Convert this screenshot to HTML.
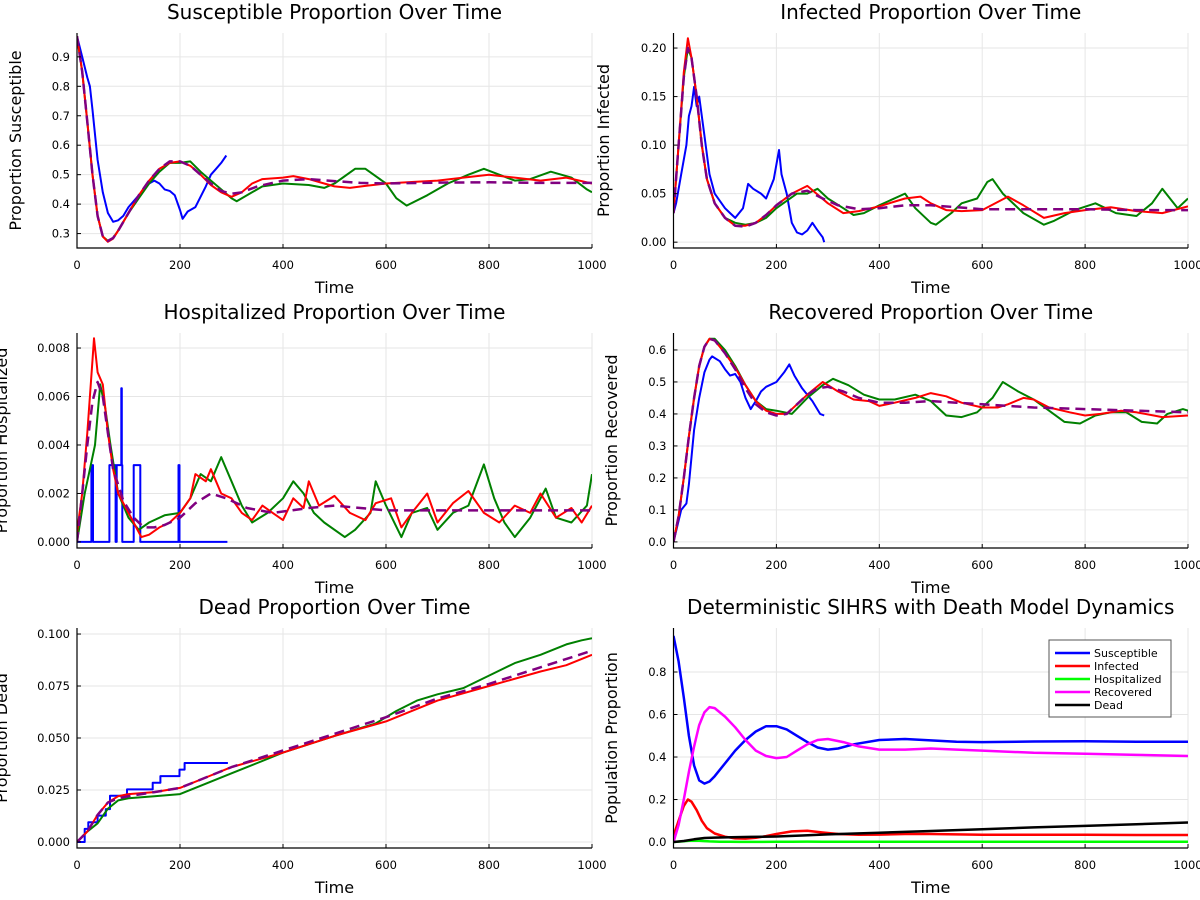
<!DOCTYPE html>
<html><head><meta charset="utf-8"><style>
html,body{margin:0;padding:0;background:#fff;}
svg{display:block;font-family:"DejaVu Sans","Liberation Sans",sans-serif;}
</style></head><body>
<svg id="chart" width="1200" height="900" viewBox="0 0 1200 900"></svg>
<script>
// ---------- data ----------
const detS_t=[0,10,20,30,40,50,60,70,80,100,120,140,160,180,200,220,240,260,280,300,320,350,400,450,500,550,600,700,800,900,1000];
const detS_v=[0.97,0.85,0.68,0.5,0.36,0.29,0.275,0.285,0.31,0.37,0.43,0.48,0.52,0.545,0.545,0.53,0.5,0.47,0.445,0.435,0.44,0.46,0.48,0.485,0.478,0.472,0.47,0.473,0.474,0.472,0.472];
const redS_t=[0,10,20,30,40,50,60,70,80,100,120,140,160,180,200,220,240,260,280,300,320,340,360,400,420,450,480,500,530,560,600,650,700,750,800,850,900,950,1000];
const redS_v=[0.97,0.85,0.68,0.5,0.36,0.29,0.272,0.283,0.31,0.37,0.43,0.48,0.52,0.54,0.545,0.53,0.5,0.465,0.44,0.425,0.44,0.47,0.485,0.49,0.495,0.485,0.47,0.46,0.455,0.462,0.47,0.475,0.48,0.49,0.5,0.49,0.48,0.49,0.47];
const grnS_t=[0,10,20,30,40,50,60,70,80,100,120,140,160,180,200,220,240,260,280,300,310,340,360,400,450,480,500,540,560,600,620,640,680,720,760,790,820,850,880,920,960,990,1000];
const grnS_v=[0.97,0.85,0.68,0.5,0.36,0.29,0.275,0.285,0.31,0.37,0.42,0.47,0.51,0.54,0.54,0.545,0.51,0.48,0.45,0.42,0.41,0.44,0.46,0.47,0.465,0.455,0.47,0.52,0.52,0.47,0.42,0.395,0.43,0.47,0.5,0.52,0.5,0.48,0.485,0.51,0.49,0.45,0.44];
const bluS_t=[0,10,20,25,30,40,50,60,70,80,90,100,110,120,140,150,160,170,180,190,200,205,215,230,250,260,270,280,290];
const bluS_v=[0.97,0.9,0.83,0.8,0.72,0.55,0.44,0.37,0.34,0.345,0.36,0.39,0.41,0.43,0.47,0.48,0.47,0.45,0.445,0.43,0.38,0.35,0.375,0.39,0.46,0.5,0.52,0.54,0.565];

const detI_t=[0,10,20,28,35,45,55,65,80,100,120,140,160,180,200,230,260,290,320,360,400,450,500,550,600,700,800,900,1000];
const detI_v=[0.03,0.1,0.17,0.2,0.19,0.15,0.1,0.065,0.04,0.025,0.017,0.016,0.02,0.028,0.038,0.05,0.053,0.045,0.038,0.034,0.035,0.038,0.038,0.036,0.034,0.034,0.034,0.033,0.033];
const redI_t=[0,10,20,28,35,45,55,65,80,100,120,140,160,180,200,230,260,300,330,360,400,450,480,500,530,560,600,650,680,720,760,800,850,900,950,1000];
const redI_v=[0.03,0.1,0.175,0.21,0.19,0.15,0.1,0.065,0.04,0.025,0.017,0.017,0.02,0.028,0.038,0.05,0.058,0.04,0.03,0.032,0.037,0.045,0.047,0.04,0.033,0.032,0.033,0.047,0.038,0.025,0.03,0.033,0.036,0.032,0.03,0.037];
const grnI_t=[0,10,20,28,35,45,55,65,80,100,120,140,160,180,200,240,260,280,300,330,350,370,400,450,470,500,510,540,560,590,610,620,640,680,720,740,780,820,860,900,930,950,980,1000];
const grnI_v=[0.03,0.1,0.17,0.2,0.19,0.15,0.1,0.065,0.04,0.025,0.02,0.018,0.02,0.025,0.035,0.05,0.05,0.055,0.045,0.035,0.028,0.03,0.038,0.05,0.035,0.02,0.018,0.03,0.04,0.045,0.062,0.065,0.05,0.03,0.018,0.022,0.033,0.04,0.03,0.027,0.04,0.055,0.035,0.045];
const bluI_t=[0,5,15,25,30,35,40,45,50,55,60,70,80,100,110,120,135,145,155,170,180,195,205,210,220,230,240,250,260,270,280,290,293];
const bluI_v=[0.03,0.04,0.07,0.1,0.13,0.14,0.16,0.14,0.15,0.13,0.11,0.07,0.05,0.035,0.03,0.025,0.035,0.06,0.055,0.05,0.045,0.065,0.095,0.07,0.05,0.02,0.01,0.008,0.012,0.02,0.012,0.005,0.0];

const detH_t=[0,10,20,30,40,50,60,70,90,110,130,150,170,200,230,260,290,330,380,450,500,600,1000];
const detH_v=[0,0.002,0.004,0.0058,0.0066,0.006,0.0045,0.003,0.0017,0.001,0.0006,0.0006,0.0007,0.001,0.0016,0.002,0.0018,0.0014,0.0012,0.0014,0.0015,0.0013,0.0013];
const redH_t=[0,10,20,30,33,40,50,60,70,80,100,115,125,140,160,180,200,220,230,250,260,280,300,320,340,360,380,400,420,440,450,470,500,530,560,580,610,630,650,680,700,730,760,790,820,850,880,900,930,960,980,1000];
const redH_v=[0.0004,0.002,0.0045,0.0075,0.0084,0.007,0.0065,0.0045,0.003,0.002,0.0012,0.0006,0.0002,0.0003,0.0006,0.0008,0.0012,0.0018,0.0028,0.0025,0.003,0.002,0.0018,0.0012,0.0009,0.0015,0.0012,0.0009,0.0018,0.0014,0.0025,0.0015,0.0019,0.0012,0.0009,0.0016,0.0018,0.0006,0.0012,0.002,0.0008,0.0016,0.0021,0.0012,0.0008,0.0015,0.0012,0.002,0.001,0.0014,0.0008,0.0015];
const grnH_t=[0,15,25,35,45,55,65,80,100,120,140,170,200,220,240,260,280,300,320,340,370,400,420,440,460,480,520,540,570,580,600,630,650,680,700,730,760,790,810,830,850,880,910,930,960,990,1000];
const grnH_v=[0,0.002,0.003,0.004,0.0065,0.0055,0.004,0.002,0.001,0.0005,0.0008,0.0011,0.0012,0.0018,0.0028,0.0025,0.0035,0.0025,0.0015,0.0008,0.0012,0.0018,0.0025,0.002,0.0012,0.0008,0.0002,0.0005,0.0012,0.0025,0.0015,0.0002,0.0012,0.0014,0.0005,0.0012,0.0015,0.0032,0.0018,0.0008,0.0002,0.001,0.0022,0.001,0.0008,0.0015,0.0028];
const bluH_t=[0,28,31,63,75,77,85,86,87,88,110,123,197,199,292];
const bluH_v=[0,0.00317,0,0.00317,0,0.00317,0.00317,0.00634,0.00317,0,0.00317,0,0.00317,0,0];

const detR_t=[0,10,20,30,40,50,60,70,80,100,120,140,160,180,200,220,240,260,280,300,330,360,400,450,500,550,600,700,800,900,1000];
const detR_v=[0,0.08,0.2,0.33,0.45,0.55,0.61,0.635,0.63,0.59,0.54,0.48,0.43,0.405,0.395,0.4,0.43,0.46,0.48,0.485,0.47,0.45,0.435,0.435,0.44,0.435,0.43,0.42,0.415,0.41,0.405];
const redR_t=[0,10,20,30,40,50,60,70,80,100,120,140,160,180,200,220,240,260,290,320,350,380,400,430,470,500,530,560,600,630,650,680,700,730,770,800,830,870,900,950,1000];
const redR_v=[0,0.08,0.2,0.33,0.45,0.55,0.61,0.635,0.63,0.59,0.545,0.49,0.44,0.41,0.4,0.4,0.43,0.46,0.5,0.47,0.445,0.44,0.425,0.435,0.45,0.465,0.455,0.435,0.42,0.42,0.43,0.45,0.445,0.42,0.405,0.395,0.4,0.41,0.405,0.39,0.395];
const grnR_t=[0,10,20,30,40,50,60,70,80,100,120,140,160,180,200,230,260,290,310,340,370,400,430,470,500,530,560,590,620,640,670,700,730,760,790,820,850,880,910,940,960,990,1000];
const grnR_v=[0,0.08,0.2,0.33,0.45,0.55,0.61,0.635,0.635,0.6,0.55,0.49,0.44,0.415,0.41,0.4,0.45,0.49,0.51,0.49,0.46,0.445,0.445,0.46,0.44,0.395,0.39,0.405,0.45,0.5,0.47,0.445,0.41,0.375,0.37,0.395,0.405,0.405,0.375,0.37,0.4,0.415,0.41];
const bluR_t=[0,15,25,30,40,50,60,70,75,90,100,110,120,130,140,150,160,170,180,200,215,225,235,250,270,285,293];
const bluR_v=[0,0.1,0.12,0.18,0.35,0.45,0.53,0.57,0.58,0.565,0.54,0.52,0.525,0.5,0.45,0.415,0.44,0.47,0.485,0.5,0.53,0.555,0.52,0.48,0.44,0.4,0.395];

const detD_t=[0,20,40,60,80,100,150,200,250,300,400,500,600,700,800,900,1000];
const detD_v=[0,0.005,0.013,0.019,0.021,0.022,0.024,0.026,0.031,0.036,0.044,0.052,0.06,0.069,0.076,0.084,0.092];
const redD_t=[0,20,40,60,80,100,150,200,250,300,400,500,600,700,800,900,950,1000];
const redD_v=[0,0.005,0.013,0.019,0.022,0.023,0.024,0.026,0.031,0.036,0.043,0.051,0.058,0.068,0.075,0.082,0.085,0.09];
const grnD_t=[0,20,40,60,80,100,150,200,250,300,350,400,500,580,620,660,700,750,800,850,900,950,980,1000];
const grnD_v=[0,0.005,0.009,0.016,0.02,0.021,0.022,0.023,0.028,0.033,0.038,0.043,0.051,0.057,0.063,0.068,0.071,0.074,0.08,0.086,0.09,0.095,0.097,0.098];
const bluD_t=[0,15,22,40,56,64,97,147,162,199,209,293];
const bluD_v=[0,0.0063,0.0095,0.0127,0.0158,0.0222,0.0253,0.0285,0.0317,0.0348,0.038,0.038];

const xTicks=[0,200,400,600,800,1000];
const yTicksS=[0.3,0.4,0.5,0.6,0.7,0.8,0.9];
const yTicksI=[0,0.05,0.1,0.15,0.2];
const yTicksH=[0,0.002,0.004,0.006,0.008];
const yTicksR=[0,0.1,0.2,0.3,0.4,0.5,0.6];
const yTicksD=[0,0.025,0.05,0.075,0.1];
const yTicks6=[0,0.2,0.4,0.6,0.8];
const legendLabels=["Susceptible","Infected","Hospitalized","Recovered","Dead"];

// ---------- drawing ----------
const NS="http://www.w3.org/2000/svg";
const svg=document.getElementById('chart');
function mk(tag,attrs,parent){const e=document.createElementNS(NS,tag);for(const k in attrs)e.setAttribute(k,attrs[k]);(parent||svg).appendChild(e);return e;}

function panel(cfg){
  const g=mk('g',{});
  
  
  const L=cfg.x0,R=cfg.x1,T=cfg.y0,B=cfg.y1;
  const xs=t=>L+(t-0)/(1000)*(R-L);
  const ys=v=>B-(v-cfg.ymin)/(cfg.ymax-cfg.ymin)*(B-T);
  xTicks.forEach(t=>{const l=mk('line',{x1:xs(t),x2:xs(t),y1:T,y2:B,stroke:'#e6e6e6','stroke-width':1},g);});
  cfg.yt.forEach(v=>{const l=mk('line',{x1:L,x2:R,y1:ys(v),y2:ys(v),stroke:'#e6e6e6','stroke-width':1},g);});
  const clipId='clip'+cfg.name;
  const cp=mk('clipPath',{id:clipId},g);mk('rect',{x:L,y:T-2,width:R-L,height:B-T+4},cp);
  const sg=mk('g',{'clip-path':'url(#'+clipId+')'},g);
  cfg.series.forEach(s=>{
    let d='';
    s.t.forEach((t,i)=>{
      if(i===0){d+='M'+xs(t).toFixed(1)+','+ys(s.v[i]).toFixed(1);}
      else if(s.step){d+='L'+xs(t).toFixed(1)+','+ys(s.v[i-1]).toFixed(1)+'L'+xs(t).toFixed(1)+','+ys(s.v[i]).toFixed(1);}
      else d+='L'+xs(t).toFixed(1)+','+ys(s.v[i]).toFixed(1);
    });
    const p=mk('path',{d:d,fill:'none',stroke:s.c,'stroke-width':s.w||2,'stroke-linejoin':'round'},sg);
    if(s.dash)p.setAttribute('stroke-dasharray',s.dash);
    
    
  });
  const ax=mk('path',{d:`M${L},${T}L${L},${B}L${R},${B}`,fill:'none',stroke:'#000','stroke-width':1.2},g);
  
  xTicks.forEach(t=>{
    mk('line',{x1:xs(t),x2:xs(t),y1:B,y2:B-4,stroke:'#000'},g);
    const tx=mk('text',{x:xs(t),y:B+21,'font-size':11.5,'text-anchor':'middle',fill:'#000'},g);tx.textContent=String(t);
    
  });
  cfg.yt.forEach(v=>{
    mk('line',{x1:L,x2:L+4,y1:ys(v),y2:ys(v),stroke:'#000'},g);
    const tx=mk('text',{x:L-7,y:ys(v)+4,'font-size':11.5,'text-anchor':'end',fill:'#000'},g);tx.textContent=v.toFixed(cfg.dec);
    
  });
  const ti=mk('text',{x:(L+R)/2,y:T-14,'font-size':20,'text-anchor':'middle',fill:'#000'},g);ti.textContent=cfg.title;
  
  const xl=mk('text',{x:(L+R)/2,y:B+45,'font-size':16,'text-anchor':'middle',fill:'#000'},g);xl.textContent='Time';
  
  const cy=(T+B)/2;
  const yl=mk('text',{x:cfg.ylx,y:cy,'font-size':16,'text-anchor':'middle',fill:'#000',transform:`rotate(-90 ${cfg.ylx} ${cy})`},g);yl.textContent=cfg.ylabel;
  
  return {xs,ys,g};
}
const dash='10,6';
function four(rt,rv,gt,gv,bt,bv,dt,dv,bstep){
  return [
    {t:bt,v:bv,c:'#0000ff',n:'stochastic-run-blue',step:bstep},
    {t:gt,v:gv,c:'#008000',n:'stochastic-run-green'},
    {t:rt,v:rv,c:'#ff0000',n:'stochastic-run-red'},
    {t:dt,v:dv,c:'#800080',n:'deterministic-dashed',dash:dash,w:2.5}
  ];
}
panel({name:'susceptible-panel',x0:77,x1:592,y0:33,y1:248,ymin:0.251,ymax:0.981,yt:yTicksS,dec:1,title:'Susceptible Proportion Over Time',ylabel:'Proportion Susceptible',ylx:21,
  series:four(redS_t,redS_v,grnS_t,grnS_v,bluS_t,bluS_v,detS_t,detS_v,false)});
panel({name:'infected-panel',x0:673.5,x1:1188,y0:33,y1:248,ymin:-0.006,ymax:0.2155,yt:yTicksI,dec:2,title:'Infected Proportion Over Time',ylabel:'Proportion Infected',ylx:609,
  series:four(redI_t,redI_v,grnI_t,grnI_v,bluI_t,bluI_v,detI_t,detI_v,false)});
panel({name:'hospitalized-panel',x0:77,x1:592,y0:333,y1:548,ymin:-0.00025,ymax:0.00862,yt:yTicksH,dec:3,title:'Hospitalized Proportion Over Time',ylabel:'Proportion Hospitalized',ylx:7,
  series:four(redH_t,redH_v,grnH_t,grnH_v,bluH_t,bluH_v,detH_t,detH_v,true)});
panel({name:'recovered-panel',x0:673.5,x1:1188,y0:333,y1:548,ymin:-0.019,ymax:0.653,yt:yTicksR,dec:1,title:'Recovered Proportion Over Time',ylabel:'Proportion Recovered',ylx:617,
  series:four(redR_t,redR_v,grnR_t,grnR_v,bluR_t,bluR_v,detR_t,detR_v,false)});
panel({name:'dead-panel',x0:77,x1:592,y0:628,y1:848,ymin:-0.0029,ymax:0.1029,yt:yTicksD,dec:3,title:'Dead Proportion Over Time',ylabel:'Proportion Dead',ylx:7,
  series:four(redD_t,redD_v,grnD_t,grnD_v,bluD_t,bluD_v,detD_t,detD_v,true)});
panel({name:'deterministic-panel',x0:673.5,x1:1188,y0:628,y1:848,ymin:-0.028,ymax:1.007,yt:yTicks6,dec:1,title:'Deterministic SIHRS with Death Model Dynamics',ylabel:'Population Proportion',ylx:617,
  series:[
    {t:detS_t,v:detS_v,c:'#0000ff',n:'susceptible-line',w:2.5},
    {t:detI_t,v:detI_v,c:'#ff0000',n:'infected-line',w:2.5},
    {t:detH_t,v:detH_v,c:'#00ff00',n:'hospitalized-line',w:2.5},
    {t:detR_t,v:detR_v,c:'#ff00ff',n:'recovered-line',w:2.5},
    {t:detD_t,v:detD_v,c:'#000000',n:'dead-line',w:2.5}
  ]});
const lg=mk('g',{});


mk('rect',{x:1049,y:640,width:122,height:77,fill:'#fff',stroke:'#555','stroke-width':1},lg);
const lc=['#0000ff','#ff0000','#00ff00','#ff00ff','#000000'];
legendLabels.forEach((lab,i)=>{
  const y=653+i*13;
  const e=mk('g',{},lg);
  
  
  mk('line',{x1:1055,x2:1090,y1:y,y2:y,stroke:lc[i],'stroke-width':2.5},e);
  const t=mk('text',{x:1094,y:y+4,'font-size':11,fill:'#000'},e);t.textContent=lab;
});
</script>
</body></html>
